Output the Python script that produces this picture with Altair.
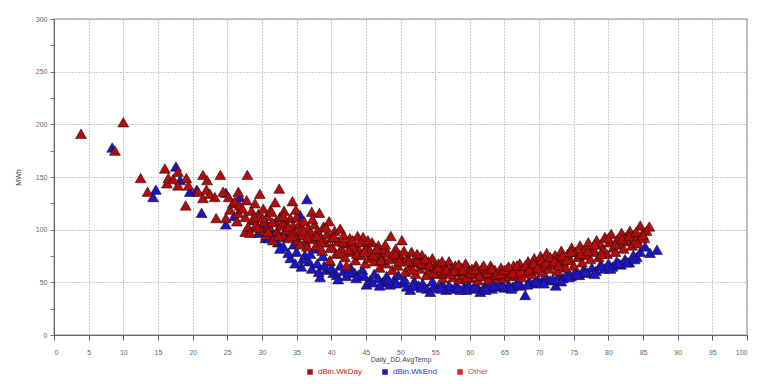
import altair as alt
import pandas as pd

# Weekday observations (Daily_DD.AvgTemp, MWh)
WKDAY = [
    (3.9, 191), (8.8, 175), (10.0, 202), (12.5, 149), (13.5, 136), (16.0, 158), (16.3, 144),
    (16.5, 149), (17.2, 148), (17.9, 155), (17.9, 142), (19.0, 123), (19.1, 149), (19.4, 142),
    (20.8, 136), (21.5, 152), (21.5, 130), (22.0, 138), (22.1, 147), (22.5, 134), (23.2, 131),
    (23.4, 111), (24.0, 152), (24.4, 136), (24.8, 111), (25.2, 131), (25.4, 119), (25.8, 125),
    (26.1, 127), (26.4, 108), (26.6, 136), (26.6, 116), (26.8, 123), (27.2, 120), (27.6, 112),
    (27.6, 98), (27.8, 128), (27.9, 152), (28.0, 103),
    (28.3, 97), (28.5, 118), (28.7, 110), (29.0, 125), (29.2, 105), (29.5, 115), (29.7, 134),
    (29.9, 100), (30.2, 120), (30.4, 108), (30.6, 95), (30.8, 113), (31.0, 103), (31.2, 118),
    (31.4, 117), (31.6, 90), (31.9, 126), (32.0, 108), (32.2, 99), (32.5, 139), (32.6, 112),
    (32.8, 104), (33.0, 95), (33.2, 118), (33.4, 107), (33.6, 100), (33.9, 92), (34.1, 111),
    (34.4, 127), (34.5, 104), (34.7, 97), (35.0, 112), (35.2, 90), (35.4, 106), (35.6, 100),
    (35.9, 95),
    (36.1, 108), (36.3, 88), (36.5, 84), (36.7, 102), (37.0, 96), (37.2, 117), (37.4, 91),
    (37.6, 105), (37.8, 85), (38.0, 99), (38.3, 116), (38.5, 93), (38.7, 80), (38.9, 103),
    (39.1, 88), (39.4, 96), (39.7, 108), (39.8, 71), (40.0, 92), (40.2, 83), (40.5, 99),
    (40.7, 77), (41.0, 89), (41.3, 101), (41.5, 82), (41.8, 95), (42.0, 74), (42.2, 66),
    (42.4, 87), (42.7, 92), (43.0, 79), (43.2, 85), (43.5, 71), (43.8, 94), (44.0, 81),
    (44.3, 76), (44.6, 93), (44.9, 68), (45.1, 84), (45.4, 73),
    (45.6, 80), (45.9, 88), (46.2, 70), (46.5, 77), (46.8, 85), (47.0, 64), (47.3, 74),
    (47.6, 81), (47.9, 68), (48.2, 78), (48.6, 94), (48.8, 62), (49.0, 73), (49.3, 82),
    (49.6, 66), (49.9, 76), (50.2, 90), (50.4, 70), (50.7, 60), (51.0, 74), (51.3, 65),
    (51.6, 79), (51.9, 69), (52.2, 58), (52.5, 72), (52.8, 63), (53.1, 76), (53.4, 67),
    (53.7, 57), (54.0, 70), (54.3, 62), (54.6, 73), (54.9, 65),
    (55.2, 58), (55.5, 68), (55.8, 61), (56.1, 54), (56.4, 66), (56.7, 59), (57.0, 70),
    (57.3, 63), (57.6, 55), (57.9, 66), (58.2, 60), (58.5, 53), (58.8, 64), (59.1, 57),
    (59.4, 68), (59.7, 61), (60.0, 54), (60.3, 63), (60.6, 58), (60.9, 66), (61.2, 52),
    (61.5, 60), (61.8, 64), (62.1, 56), (62.4, 61), (62.7, 53), (63.0, 66), (63.3, 58),
    (63.6, 62), (63.9, 55), (64.2, 60), (64.5, 64), (64.8, 54),
    (65.1, 59), (65.4, 63), (65.7, 56), (66.0, 61), (66.3, 66), (66.6, 57), (66.9, 62),
    (67.2, 68), (67.5, 55), (67.8, 63), (68.1, 59), (68.4, 70), (68.7, 65), (69.0, 58),
    (69.3, 73), (69.6, 62), (69.9, 68), (70.2, 75), (70.5, 60), (70.8, 66), (71.1, 78),
    (71.4, 63), (71.7, 71), (72.0, 67), (72.3, 76), (72.6, 61), (72.9, 73), (73.2, 80),
    (73.5, 69), (73.8, 64), (74.1, 77), (74.4, 72), (74.7, 83),
    (75.0, 66), (75.3, 79), (75.6, 74), (75.9, 85), (76.2, 69), (76.5, 81), (76.8, 76),
    (77.1, 88), (77.4, 72), (77.7, 83), (78.0, 79), (78.3, 90), (78.6, 74), (78.9, 86),
    (79.2, 81), (79.5, 93), (79.8, 77), (80.1, 88), (80.4, 96), (80.7, 83), (81.0, 79),
    (81.3, 91), (81.6, 86), (81.9, 97), (82.2, 82), (82.5, 93), (82.8, 89), (83.1, 99),
    (83.4, 85), (83.7, 95), (84.0, 91), (84.3, 87), (84.6, 104), (84.9, 96), (85.2, 92),
    (85.5, 99), (85.9, 103),
    (28.9, 112), (29.4, 102), (30.1, 111), (30.9, 98), (31.5, 107), (32.4, 94), (33.1, 113),
    (33.8, 103), (34.3, 94), (34.9, 119), (35.5, 86), (36.0, 99), (36.6, 93), (37.3, 110),
    (37.9, 94), (38.6, 88), (39.3, 102), (39.9, 83), (40.4, 93), (41.1, 78), (41.7, 88),
    (42.5, 81), (43.1, 90), (43.7, 77), (44.2, 88), (44.8, 79), (45.3, 90), (46.0, 76),
    (46.6, 82), (47.2, 71), (47.8, 86), (48.4, 72), (49.2, 77), (49.8, 70), (50.5, 80),
    (51.2, 70), (51.8, 62), (52.4, 77), (53.0, 68), (53.6, 72), (54.2, 66), (54.8, 59),
    (55.4, 64), (56.0, 70), (56.6, 62), (57.2, 58), (57.8, 61), (58.4, 67), (59.0, 62),
    (59.6, 55), (60.2, 59), (60.8, 62), (61.4, 56), (62.0, 66), (62.6, 59), (63.2, 63),
    (63.8, 57), (64.4, 58), (65.0, 62), (65.6, 65), (66.2, 59), (66.8, 66), (67.4, 61),
    (68.0, 66), (68.6, 62), (69.2, 68), (69.8, 64), (70.4, 71), (71.0, 69), (71.6, 74),
    (72.2, 70), (72.8, 66), (73.4, 75), (74.0, 71), (74.6, 79), (76.0, 77), (77.0, 80),
    (78.0, 86), (79.0, 77), (80.0, 92), (81.0, 86), (82.0, 91), (83.0, 94), (84.0, 98),
    (85.0, 95),
]

# Weekend observations
WKEND = [
    (8.4, 178), (14.3, 131), (14.7, 138), (17.6, 160), (18.2, 147), (19.6, 136), (20.6, 138),
    (21.3, 116), (24.8, 135), (24.8, 105), (26.0, 113), (26.8, 131),
    (28.8, 109), (29.5, 97), (30.0, 104), (30.5, 92), (31.2, 101), (31.8, 95), (32.3, 88),
    (33.1, 84), (33.5, 93), (34.1, 73), (34.6, 86), (35.0, 79), (35.5, 114), (35.7, 65),
    (36.2, 76), (36.5, 129),
    (36.8, 70), (37.2, 63), (37.6, 82), (38.0, 68), (38.4, 55), (38.8, 75), (39.3, 62),
    (39.8, 70), (40.3, 59), (40.8, 57), (41.3, 66), (41.8, 61), (42.2, 56), (42.8, 64),
    (43.4, 59), (43.9, 57), (44.5, 62), (45.1, 48),
    (45.6, 52), (46.2, 58), (46.8, 54), (47.4, 50), (48.0, 56), (48.5, 48), (49.1, 53),
    (49.7, 57), (50.3, 50), (50.9, 46), (51.4, 43), (52.0, 51), (52.6, 47), (53.2, 49),
    (53.8, 44), (54.3, 41), (54.9, 47),
    (55.4, 45), (56.0, 49), (56.6, 43), (57.4, 44), (58.0, 47), (58.6, 43), (59.2, 46),
    (59.8, 48), (60.4, 44), (61.0, 47), (61.5, 41), (62.0, 45), (62.6, 48), (63.2, 44),
    (63.8, 46), (64.4, 49), (65.0, 45),
    (65.6, 48), (66.2, 46), (66.8, 50), (67.4, 47), (68.0, 38), (68.6, 51), (69.2, 49),
    (69.8, 53), (70.4, 51), (71.0, 55), (71.6, 52), (72.4, 47), (72.8, 56), (73.4, 54),
    (74.0, 58), (74.6, 56),
    (75.2, 60), (75.8, 57), (76.4, 62), (77.0, 59), (77.6, 64), (78.2, 61), (78.8, 66),
    (79.4, 63), (80.0, 68), (80.6, 65), (81.2, 70), (81.8, 67), (82.4, 72), (83.0, 69),
    (83.6, 76), (84.1, 74), (84.6, 79), (85.3, 84), (86.0, 78), (87.0, 81),
    (29.2, 103), (31.0, 92), (32.6, 82), (33.8, 78), (34.8, 68), (35.9, 72), (37.0, 77),
    (38.2, 60), (39.0, 66), (40.0, 64), (41.0, 53), (42.5, 60), (43.6, 54), (44.8, 56),
    (46.0, 50), (47.0, 47), (48.2, 52), (49.4, 49), (50.6, 53), (51.8, 47), (53.0, 45),
    (54.6, 51), (55.8, 44), (57.0, 47), (58.3, 45), (59.5, 43), (60.7, 46), (62.3, 43),
    (63.5, 47), (64.7, 47), (66.0, 44), (67.0, 49), (68.3, 48), (69.5, 51), (70.7, 49),
    (72.0, 53), (73.2, 51), (74.3, 55), (75.5, 58), (76.7, 60), (78.0, 58), (79.0, 66),
    (80.3, 63), (81.5, 68), (82.7, 69), (83.8, 72),
]

SERIES = ["dBin.WkDay", "dBin.WkEnd", "Other"]
COLORS = ["#b00c0c", "#1616cc", "#d02626"]
X_TICKS = list(range(0, 101, 5))
Y_TICKS = list(range(0, 301, 25))

rows = []
for x, y in WKEND:
    rows.append({"temp": x, "mwh": y, "series": "dBin.WkEnd", "order": 0})
for x, y in WKDAY:
    rows.append({"temp": x, "mwh": y, "series": "dBin.WkDay", "order": 1})
df = pd.DataFrame(rows)

FONT = "Liberation Sans"

chart = alt.Chart(df).mark_point(
    shape="triangle-up", filled=True, size=118, stroke="#2a0c0c", strokeWidth=0.6, opacity=1
).encode(
    x=alt.X("temp:Q", title="Daily_DD.AvgTemp",
            scale=alt.Scale(domain=[0, 100], nice=False, zero=False),
            axis=alt.Axis(values=X_TICKS, tickSize=5, labelPadding=8, titlePadding=0,
                          labelFontSize=7, titleFontSize=7, labelColor="#666",
                          titleColor="#444", titleFontWeight="normal",
                          domainColor="#666", tickColor="#555",
                          gridColor="#999", gridDash=[1, 2], labelFont=FONT,
                          titleFont=FONT)),
    y=alt.Y("mwh:Q", title="MWh",
            scale=alt.Scale(domain=[0, 300], nice=False),
            axis=alt.Axis(values=Y_TICKS, tickSize=4, labelPadding=3, titlePadding=14,
                          labelFontSize=7, titleFontSize=7, labelColor="#666",
                          titleColor="#444", titleFontWeight="normal",
                          labelExpr="datum.value % 50 == 0 ? datum.label : ''",
                          domainColor="#666", tickColor="#777",
                          gridColor="#999", gridDash=[1, 2],
                          gridOpacity={"condition": {"test": "datum.value % 50 != 0", "value": 0},
                                       "value": 1},
                          labelFont=FONT, titleFont=FONT)),
    color=alt.Color("series:N", title=None,
                    scale=alt.Scale(domain=SERIES, range=COLORS),
                    legend=alt.Legend(orient="none", legendX=252, legendY=349,
                                      direction="horizontal", symbolType="square",
                                      symbolSize=30, symbolStrokeWidth=0,
                                      labelFontSize=8, labelFont=FONT,
                                      columnPadding=18, labelOffset=4,
                                      labelColor=alt.ExprRef(
                                          "datum.label == 'dBin.WkEnd' ? '#3030e8' : (datum.label == 'Other' ? '#e84040' : '#c82020')"))),
    order=alt.Order("order:Q"),
).properties(
    width=693, height=316,
    autosize=alt.AutoSizeParams(type="none"),
    padding={"left": 46, "top": 11, "right": 17, "bottom": 49},
    background="white",
).configure_view(
    stroke="#b4b4b4", strokeWidth=1.5
)

chart.save("out.html", embed_options={"renderer": "svg", "actions": False})
